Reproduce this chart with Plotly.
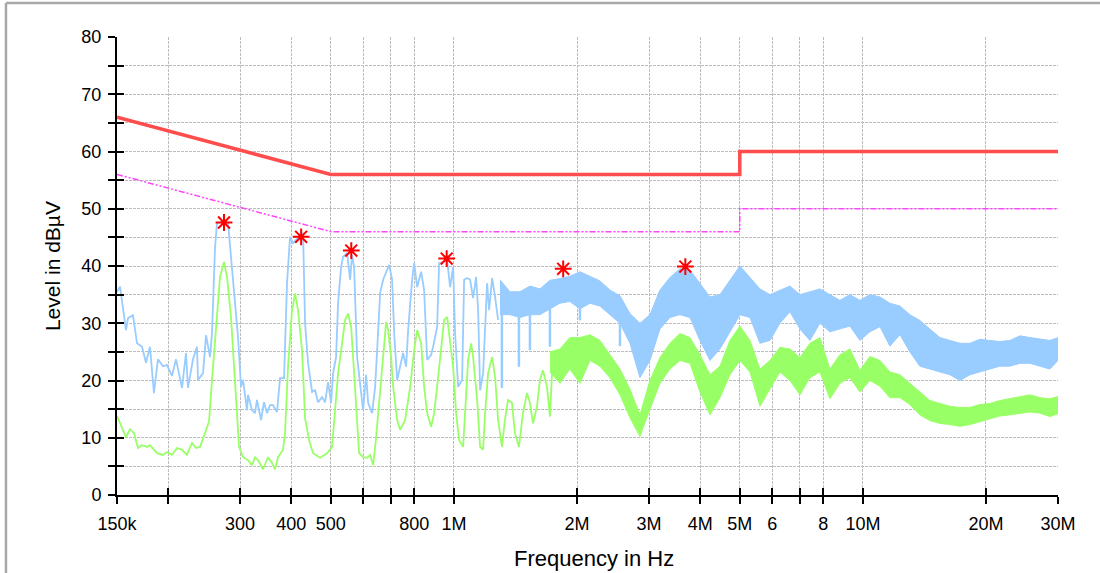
import math
import plotly.graph_objects as go

# ---------------- data ----------------
# limit lines (frequency in MHz, level in dBuV)
qp_limit_mhz = [0.15, 0.5, 5.0, 5.0, 30.0]
qp_limit_db = [66.0, 56.0, 56.0, 60.0, 60.0]
av_limit_mhz = [0.15, 0.5, 5.0, 5.0, 30.0]
av_limit_db = [56.0, 46.0, 46.0, 50.0, 50.0]

# peak detector trace (blue), resolved part, kHz
peak_khz = [150.0, 152.6, 157.8, 159.6, 164.1, 167.9, 172.7, 176.6, 180.6, 184.7,
            188.9, 194.3, 198.7, 204.4, 209.1, 216.3, 221.2, 223.7, 230.1, 235.3,
            236.7, 243.5, 247.6, 253.3, 256.1, 260.5, 263.4, 272.5, 280.3, 288.3,
            296.5, 301.5, 305.0, 311.9, 313.7, 320.8, 326.2, 329.9, 337.5, 343.2,
            349.1, 355.0, 361.1, 369.3, 375.6, 384.2, 390.7, 397.4, 404.2, 415.7,
            427.6, 432.5, 439.8, 449.9, 457.5, 465.3, 475.9, 484.0, 492.3, 500.7,
            506.4, 515.0, 520.8, 529.7, 535.7, 547.9, 557.3, 563.6, 570.0, 579.8,
            589.7, 599.7, 609.9, 616.8, 630.9, 641.7, 649.0, 660.0, 671.3, 682.7,
            694.3, 706.2, 714.2, 726.3, 738.7, 751.2, 764.1, 772.7, 790.3, 799.3,
            812.9, 831.4, 845.5, 859.9, 879.5, 889.4, 909.7, 920.0, 941.0, 962.4,
            978.7, 995.4, 1006.6, 1023.8, 1047.1, 1059.0, 1077.0, 1095.4, 1114.0, 1133.0,
            1145.8, 1158.8, 1178.5, 1205.4, 1219.0, 1239.8, 1260.8, 1282.3]
peak_db = [35.5, 36.4, 28.8, 30.9, 31.4, 26.5, 25.9, 23.1, 25.9, 17.8,
           23.7, 22.5, 22.7, 20.8, 23.7, 18.7, 24.8, 18.7, 23.7, 25.9,
           20.1, 21.3, 27.9, 24.1, 28.3, 43.3, 47.5, 47.7, 47.5, 37.0,
           27.6, 18.9, 20.1, 14.8, 17.5, 14.8, 14.3, 16.6, 13.1, 16.2,
           14.3, 15.7, 15.7, 14.5, 20.4, 20.4, 37.0, 45.1, 44.0, 44.9,
           45.8, 30.0, 23.1, 18.0, 18.3, 16.2, 17.1, 16.2, 19.7, 16.1,
           21.3, 24.1, 33.5, 39.8, 41.6, 42.3, 37.6, 41.9, 39.8, 24.1,
           19.2, 14.8, 21.0, 16.1, 14.3, 18.9, 25.3, 35.3, 37.6, 38.8,
           40.2, 37.6, 28.3, 20.1, 22.4, 24.8, 22.4, 28.8, 37.6, 40.5,
           36.3, 39.0, 35.8, 23.6, 24.5, 25.9, 29.3, 40.5, 40.7, 41.0,
           36.3, 39.8, 28.3, 18.9, 20.1, 37.6, 37.9, 37.6, 34.4, 38.1,
           32.3, 18.3, 21.3, 37.0, 32.3, 37.9, 34.6, 30.6]

# average detector trace (green), resolved part, kHz
avg_khz = [150.0, 157.8, 161.4, 165.1, 168.8, 172.7, 177.6, 180.6, 187.9, 194.3,
           198.7, 204.4, 210.3, 216.3, 222.4, 228.8, 234.0, 239.4, 246.2, 251.8,
           256.1, 262.0, 267.9, 274.0, 278.7, 285.0, 291.5, 298.2, 305.0, 313.7,
           320.8, 326.2, 331.8, 341.3, 351.0, 359.0, 365.2, 371.4, 382.0, 386.3,
           392.9, 401.9, 408.8, 415.7, 425.2, 432.5, 442.3, 452.4, 470.6, 489.5,
           503.5, 512.1, 520.8, 532.7, 541.8, 551.0, 560.5, 566.8, 576.5, 586.3,
           599.7, 613.4, 623.8, 634.5, 645.3, 656.3, 671.3, 682.7, 690.4, 702.2,
           710.2, 726.3, 738.7, 759.8, 781.5, 799.3, 812.9, 831.4, 845.5, 859.9,
           879.5, 894.5, 909.7, 930.4, 946.3, 962.4, 978.7, 995.4, 1012.3, 1029.6,
           1053.0, 1065.0, 1083.1, 1101.6, 1114.0, 1139.4, 1158.8, 1178.5, 1191.9, 1212.2,
           1239.8, 1260.8, 1282.3, 1310.4, 1332.6, 1355.4, 1386.3, 1410.0, 1442.1, 1474.9,
           1508.4, 1534.2, 1560.3, 1595.8, 1623.0, 1650.9, 1688.4, 1717.2, 1746.4]
avg_db = [13.8, 10.1, 11.5, 10.8, 8.2, 8.7, 8.4, 8.7, 7.3, 7.0,
          7.5, 7.0, 8.2, 7.9, 7.0, 9.1, 8.2, 8.4, 10.8, 12.8,
          20.1, 30.0, 38.1, 40.7, 38.1, 31.1, 20.6, 8.4, 6.6, 6.1,
          5.2, 6.6, 6.1, 4.5, 6.6, 5.6, 4.5, 6.6, 7.9, 10.8,
          22.4, 32.3, 35.2, 32.3, 25.3, 13.4, 9.6, 7.3, 6.5, 7.3,
          8.4, 14.3, 21.3, 26.5, 30.6, 31.7, 29.4, 24.1, 15.4, 7.3,
          6.6, 6.5, 7.0, 5.2, 10.1, 16.6, 24.1, 30.2, 28.8, 24.1,
          18.9, 13.1, 11.4, 13.1, 18.9, 25.3, 28.8, 26.5, 18.9, 14.3,
          11.9, 14.3, 18.9, 25.3, 30.6, 31.1, 27.1, 22.4, 14.3, 9.6,
          8.4, 14.3, 23.6, 26.5, 24.1, 16.6, 8.4, 7.9, 14.3, 21.3,
          24.1, 20.6, 13.1, 8.4, 13.1, 16.6, 16.1, 10.8, 8.4, 14.3,
          17.8, 16.1, 12.5, 15.4, 20.1, 21.8, 18.9, 13.7, 24.8]

# dense part of the sweep: upper / lower envelope of the noise band (MHz)
band_mhz = [1.296, 1.371, 1.450, 1.534, 1.623, 1.717, 1.816, 1.921, 2.033, 2.151,
            2.275, 2.407, 2.547, 2.694, 2.850, 3.015, 3.190, 3.375, 3.570, 3.777,
            3.996, 4.227, 4.472, 4.731, 5.005, 5.295, 5.601, 5.926, 6.267, 6.632,
            7.016, 7.422, 7.851, 8.307, 8.787, 9.296, 9.834, 10.40, 11.01, 11.64,
            12.32, 13.03, 13.78, 14.58, 15.43, 16.32, 17.27, 18.27, 19.32, 20.44,
            21.63, 22.88, 24.21, 25.61, 27.09, 28.66, 30.0]
peak_hi = [37.6, 35.5, 35.5, 36.5, 36.0, 37.5, 37.8, 38.2, 39.0, 38.2,
           37.4, 35.8, 34.8, 31.7, 30.0, 31.5, 35.8, 38.0, 39.5, 39.3,
           37.0, 34.6, 35.0, 37.5, 40.0, 38.0, 36.0, 35.0, 35.8, 36.5,
           35.0, 35.5, 36.0, 35.0, 34.0, 35.0, 34.0, 35.0, 34.6, 33.5,
           33.0, 31.5, 30.5, 29.0, 27.5, 27.0, 26.5, 26.5, 27.2, 27.0,
           26.8, 27.0, 27.8, 27.5, 27.3, 27.0, 27.5]
peak_lo = [31.5, 31.5, 31.0, 31.5, 31.5, 32.5, 33.5, 33.8, 32.5, 33.5,
           33.0, 31.5, 30.0, 26.5, 20.5, 23.5, 29.0, 31.0, 31.5, 31.0,
           27.0, 23.5, 25.5, 28.5, 31.5, 31.0, 26.5, 27.0, 30.0, 32.0,
           29.0, 27.0, 30.0, 28.5, 29.0, 29.5, 27.0, 28.5, 29.4, 26.0,
           28.0, 25.0, 22.5, 22.0, 21.5, 21.0, 20.0, 21.0, 21.5, 22.0,
           22.5, 22.5, 23.0, 23.0, 22.5, 22.0, 23.5]
# narrow downward spikes of the peak trace inside the dense part (MHz, dBuV)
peak_spike_mhz = [1.310, 1.442, 1.534, 1.717, 2.033, 2.547]
peak_spike_top = [32.0, 32.0, 32.5, 33.0, 34.0, 30.5]
peak_spike_bottom = [18.7, 22.4, 25.3, 25.9, 30.5, 26.0]

avg_band_mhz = [1.717, 1.816, 1.921, 2.033, 2.151,
                2.275, 2.407, 2.547, 2.694, 2.850, 3.015, 3.190, 3.375, 3.570, 3.777,
                3.996, 4.227, 4.472, 4.731, 5.005, 5.295, 5.601, 5.926, 6.267, 6.632,
                7.016, 7.422, 7.851, 8.307, 8.787, 9.296, 9.834, 10.40, 11.01, 11.64,
                12.32, 13.03, 13.78, 14.58, 15.43, 16.32, 17.27, 18.27, 19.32, 20.44,
                21.63, 22.88, 24.21, 25.61, 27.09, 28.66, 30.0]
avg_hi = [25.0, 25.5, 27.5, 27.5, 28.0,
          27.0, 24.5, 22.0, 18.5, 14.0, 20.0, 24.0, 26.5, 28.2, 27.5,
          24.5, 21.0, 22.5, 27.0, 29.5, 27.0, 22.0, 23.5, 25.8, 25.5,
          24.0, 26.5, 27.5, 22.0, 24.5, 25.5, 21.8, 24.2, 23.5, 21.5,
          21.0, 19.5, 18.0, 16.5, 16.0, 15.5, 15.3, 15.3, 15.8, 16.0,
          16.5, 16.8, 17.2, 17.5, 17.0, 16.8, 17.2]
avg_lo = [21.5, 19.5, 22.0, 19.5, 23.5,
          22.5, 20.5, 17.5, 13.5, 10.2, 15.0, 19.5, 22.0, 23.5, 23.0,
          18.0, 14.0, 17.0, 21.0, 23.5, 21.5, 15.5, 18.5, 21.5, 20.0,
          17.5, 20.5, 21.5, 16.8, 19.5, 20.5, 18.0, 20.0, 19.0, 17.0,
          17.0, 15.8, 14.0, 13.0, 12.5, 12.3, 12.0, 12.3, 12.8, 13.4,
          13.8, 14.0, 14.3, 14.5, 14.3, 13.7, 14.2]

# final measurement markers
marker_mhz = [0.274, 0.423, 0.561, 0.960, 1.85, 3.68]
marker_db = [47.6, 45.1, 42.7, 41.3, 39.5, 39.9]

# axis ticks
x_tick_hz = [150e3, 200e3, 300e3, 400e3, 500e3, 600e3, 700e3, 800e3, 1e6,
             2e6, 3e6, 4e6, 5e6, 6e6, 7e6, 8e6, 10e6, 20e6, 30e6]
x_tick_text = ["150k", "", "300", "400", "500", "", "", "800", "1M",
               "2M", "3M", "4M", "5M", "6", "", "8", "10M", "20M", "30M"]
y_tick_vals = [0, 5, 10, 15, 20, 25, 30, 35, 40, 45, 50, 55, 60, 65, 70, 75, 80]
y_tick_text = ["0", "", "10", "", "20", "", "30", "", "40", "", "50", "", "60", "", "70", "", "80"]

# ---------------- styles ----------------
BLUE = "#99CCFF"
GREEN = "#99FF66"
RED = "#FF4D4D"
MAGENTA = "#FF44FF"
FONT = "Liberation Sans, Arial, sans-serif"


def scaled(vals, scale):
    return [v * scale for v in vals]


def spikes(freqs, tops, bottoms, scale):
    xs, ys = [], []
    for f, t, b in zip(freqs, tops, bottoms):
        xs += [f * scale, f * scale, None]
        ys += [t, b, None]
    return xs, ys


fig = go.Figure()

# blue: peak trace
fig.add_trace(go.Scatter(x=scaled(peak_khz, 1e3), y=peak_db, mode="lines",
                         line=dict(color=BLUE, width=1.8), showlegend=False))
fig.add_trace(go.Scatter(x=scaled(band_mhz, 1e6), y=peak_lo, mode="lines",
                         line=dict(color=BLUE, width=1), showlegend=False))
fig.add_trace(go.Scatter(x=scaled(band_mhz, 1e6), y=peak_hi, mode="lines",
                         line=dict(color=BLUE, width=1), fill="tonexty",
                         fillcolor=BLUE, showlegend=False))
sx, sy = spikes(peak_spike_mhz, peak_spike_top, peak_spike_bottom, 1e6)
fig.add_trace(go.Scatter(x=sx, y=sy, mode="lines", line=dict(color=BLUE, width=2.5),
                         showlegend=False))
# green: average trace
fig.add_trace(go.Scatter(x=scaled(avg_khz, 1e3), y=avg_db, mode="lines",
                         line=dict(color=GREEN, width=1.8), showlegend=False))
fig.add_trace(go.Scatter(x=scaled(avg_band_mhz, 1e6), y=avg_lo, mode="lines",
                         line=dict(color=GREEN, width=1), showlegend=False))
fig.add_trace(go.Scatter(x=scaled(avg_band_mhz, 1e6), y=avg_hi, mode="lines",
                         line=dict(color=GREEN, width=1), fill="tonexty",
                         fillcolor=GREEN, showlegend=False))
# limits
fig.add_trace(go.Scatter(x=scaled(qp_limit_mhz, 1e6), y=qp_limit_db, mode="lines",
                         line=dict(color=RED, width=3.5), showlegend=False))
fig.add_trace(go.Scatter(x=scaled(av_limit_mhz, 1e6), y=av_limit_db, mode="lines",
                         line=dict(color=MAGENTA, width=1.5, dash="6px,2px,2px,2px,2px,2px"),
                         showlegend=False))
# markers
fig.add_trace(go.Scatter(x=scaled(marker_mhz, 1e6), y=marker_db, mode="markers",
                         marker=dict(symbol="asterisk-open", size=14, color="red",
                                     line=dict(color="red", width=2)),
                         showlegend=False))
# dummy trace for the inner tick axes
fig.add_trace(go.Scatter(x=[None], y=[None], xaxis="x2", yaxis="y2",
                         showlegend=False, hoverinfo="skip"))

xr = [math.log10(150e3), math.log10(30e6)]

fig.update_layout(
    width=1100, height=573,
    margin=dict(l=117, r=42, t=37, b=78),
    paper_bgcolor="white", plot_bgcolor="white",
    font=dict(family=FONT, color="black", size=18),
    xaxis=dict(type="log", range=xr, tickmode="array", tickvals=x_tick_hz,
               ticktext=x_tick_text, ticks="outside", ticklen=7, tickwidth=1.5,
               tickcolor="black", showline=True, linecolor="black", linewidth=2,
               showgrid=True, gridcolor="#BDBDBD", gridwidth=1.3, griddash="3px,1px",
               zeroline=False, tickfont=dict(size=18), tickangle=0,
               ticklabelstandoff=4),
    yaxis=dict(range=[0, 80], tickmode="array", tickvals=y_tick_vals,
               ticktext=y_tick_text, ticks="outside", ticklen=7, tickwidth=1.5,
               tickcolor="black", showline=True, linecolor="black", linewidth=2,
               showgrid=True, gridcolor="#BDBDBD", gridwidth=1.3, griddash="3px,1px",
               zeroline=False, tickfont=dict(size=18), ticklabelstandoff=3),
    xaxis2=dict(type="log", range=xr, overlaying="x", anchor="y2", side="bottom",
                tickmode="array", tickvals=x_tick_hz, ticks="inside", ticklen=7,
                tickwidth=1.5, tickcolor="black", showticklabels=False,
                showgrid=False, showline=False, zeroline=False),
    yaxis2=dict(range=[0, 80], overlaying="y", anchor="x2", side="left",
                tickmode="array", tickvals=y_tick_vals, ticks="inside", ticklen=7,
                tickwidth=1.5, tickcolor="black", showticklabels=False,
                showgrid=False, showline=False, zeroline=False),
    annotations=[
        dict(text="Frequency in Hz", xref="paper", yref="paper", x=0.507, y=-0.138,
             xanchor="center", yanchor="middle", showarrow=False,
             font=dict(size=22, family=FONT)),
        dict(text="Level in dBµV", xref="paper", yref="paper", x=-0.069, y=0.5,
             xanchor="center", yanchor="middle", showarrow=False, textangle=-90,
             font=dict(size=21, family=FONT)),
    ],
    shapes=[
        # outer gray frame of the report window (left and top edges only)
        dict(type="line", xref="paper", yref="paper", x0=-0.118, y0=-0.4,
             x1=-0.118, y1=1.0745, line=dict(color="#A8A8A8", width=2.5),
             layer="below"),
        dict(type="line", xref="paper", yref="paper", x0=-0.118, y0=1.0745,
             x1=1.1, y1=1.0745, line=dict(color="#A8A8A8", width=2.5),
             layer="below"),
    ],
)

fig.write_html(
    "out.html",
    config={"displayModeBar": False},
    post_script="document.body.style.margin='0';document.body.style.overflow='hidden';",
)
